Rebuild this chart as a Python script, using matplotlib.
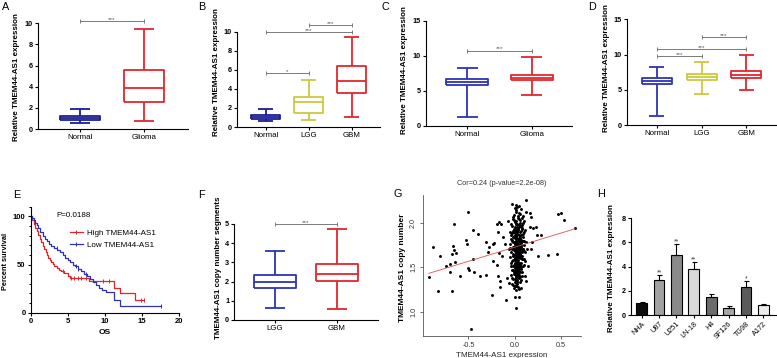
import numpy as np
import matplotlib
matplotlib.use('Agg')
import matplotlib.pyplot as plt
from matplotlib.ticker import MultipleLocator
from matplotlib.lines import Line2D

plt.rcParams['font.family'] = ['Liberation Sans', 'DejaVu Sans']
plt.rcParams['axes.unicode_minus'] = False

W, H = 777, 358

BLUE = '#2d33b4'
NAVY = '#1b1e94'
RED = '#e3252b'
YELLOW = '#cdc93a'
SIG = '#7a7a7a'

# box summaries per group: whisker low, q1, median, q3, whisker high
a_groups = ['Normal', 'Glioma']
a_box = [[0.6, 0.85, 1.0, 1.25, 1.9], [0.8, 2.6, 3.85, 5.6, 9.5]]
a_sig = [(1, 2, 10.2, '***')]

b_groups = ['Normal', 'LGG', 'GBM']
b_box = [[0.6, 0.8, 1.0, 1.25, 1.9], [0.75, 1.45, 2.6, 3.15, 4.95], [1.0, 3.6, 4.8, 6.45, 9.45]]
b_sig = [(1, 2, 5.65, '*'), (1, 3, 9.95, '***'), (2, 3, 10.75, '***')]

c_groups = ['Normal', 'Glioma']
c_box = [[1.3, 5.9, 6.3, 6.7, 8.3], [4.4, 6.55, 6.9, 7.3, 9.9]]
c_sig = [(1, 2, 10.75, '***')]

d_groups = ['Normal', 'LGG', 'GBM']
d_box = [[1.3, 5.85, 6.3, 6.7, 8.3], [4.45, 6.45, 6.8, 7.2, 8.9], [4.9, 6.7, 7.1, 7.6, 9.9]]
d_sig = [(1, 2, 9.8, '***'), (1, 3, 10.75, '***'), (2, 3, 12.55, '***')]

f_groups = ['LGG', 'GBM']
f_box = [[0.6, 1.65, 1.97, 2.35, 3.6], [0.58, 2.05, 2.42, 2.93, 4.75]]
f_sig = [(1, 2, 5.0, '***')]

# E: Kaplan-Meier curves
high_t = [0, 0.2, 0.4, 0.6, 0.8, 1.0, 1.2, 1.4, 1.6, 1.8, 2.0, 2.2, 2.4, 2.6, 2.8, 3.0,
          3.2, 3.5, 3.8, 4.1, 4.5, 5.0, 5.3, 7.9, 11.3, 12.1, 14.1, 15.3]
high_s = [100, 96, 92, 88, 85, 81, 77, 73, 69, 66, 63, 60, 57, 55, 53, 51,
          48, 46, 44.5, 43, 41, 38, 35.5, 33, 26, 20, 13.5, 13.5]
high_cens = [4.35, 5.5, 5.9, 6.4, 6.8, 7.5, 9.7, 10.6, 14.9, 15.3]
low_t = [0, 0.2, 0.4, 0.6, 0.8, 1.0, 1.3, 1.6, 1.9, 2.2, 2.5, 2.8, 3.2, 3.6, 4.0, 4.3,
         4.6, 5.0, 5.3, 5.7, 6.0, 6.4, 6.8, 7.2, 7.6, 8.0, 8.4, 8.8, 9.2, 9.6, 10.2,
         11.2, 12.1, 17.6]
low_s = [100, 98, 96, 93, 91, 88, 84, 80, 77, 74, 71, 69, 67, 65, 63, 60,
         57, 55, 53, 50, 48, 45, 43, 40, 38, 35, 32, 29, 26, 24, 21,
         13.5, 7, 7]
low_cens = [3.5, 6.15, 6.4, 7.5, 17.6]

# G: copy number vs expression
g_out_expr = [-0.93, -0.887, -0.828, -0.814, -0.741, -0.704, -0.70, -0.682, -0.682, -0.664,
              -0.657, -0.657, -0.646, -0.639, -0.595, -0.522, -0.511, -0.504, -0.50, -0.493,
              -0.456, -0.449, -0.438, -0.474, -0.401, -0.376, -0.31, -0.31, -0.292, -0.281,
              -0.245, -0.237, -0.23, -0.219, -0.193, -0.182, -0.193, -0.179, -0.164, -0.157,
              -0.153, -0.146, -0.135, -0.164, -0.128, -0.109, -0.091, -0.084, -0.073, -0.062,
              0.0, 0.0, 0.011, 0.047, -0.026, 0.011, 0.047, 0.12, 0.12, 0.164,
              0.182, 0.172, 0.20, 0.23, 0.245, 0.281, 0.193, 0.182, 0.255, 0.358,
              0.456, 0.474, 0.504, 0.536, 0.657, 0.146, 0.128, 0.11]
g_out_copy = [1.395, 1.726, 1.237, 1.632, 1.519, 1.444, 1.538, 1.229, 1.65, 1.733,
              1.989, 1.695, 1.556, 1.658, 1.398, 1.808, 1.763, 2.117, 1.49, 1.47,
              1.594, 1.913, 1.45, 0.808, 1.876, 1.406, 1.782, 1.41, 1.669, 1.726,
              1.192, 1.763, 1.568, 1.771, 1.989, 1.895, 1.53, 1.406, 2.008, 1.35,
              1.274, 1.981, 1.632, 1.665, 1.838, 1.763, 1.139, 1.38, 2.019, 1.32,
              1.293, 1.169, 1.041, 1.169, 2.207, 2.195, 2.184, 2.25, 2.12, 2.109,
              2.064, 1.951, 1.944, 1.951, 1.857, 1.857, 1.782, 1.707, 1.632, 1.643,
              1.65, 2.094, 2.109, 2.026, 1.94, 1.519, 1.35, 1.406]
g_core_expr = [
    -0.02, 0.01, 0.04, 0.07, 0.03, -0.01, 0.05, 0.09, 0.02, 0.06, 0.00, 0.08,
    -0.03, 0.00, 0.02, 0.05, 0.08, -0.01, 0.03, 0.06, 0.10, 0.01,
    0.04, -0.04, 0.07, 0.02, 0.05, 0.09, -0.02, 0.03, 0.00, 0.06,
    -0.04, -0.02, 0.00, 0.01, 0.03, 0.04, 0.06, 0.08, 0.10, 0.02,
    -0.03, 0.05, 0.07, 0.01, -0.01, 0.03, 0.09, 0.04, 0.00, 0.06,
    0.11, -0.05, 0.02, 0.05, 0.08, -0.02, 0.03, 0.01, 0.07, 0.04,
    -0.05, -0.03, -0.01, 0.00, 0.02, 0.03, 0.05, 0.06, 0.08, 0.10,
    0.01, -0.02, 0.04, 0.07, 0.09, 0.02, -0.04, 0.03, 0.05, 0.00,
    0.12, 0.06, -0.01, 0.04, 0.08, 0.01, 0.03, -0.03, 0.07, 0.02,
    0.05, 0.10, 0.00, 0.04, -0.02, 0.06, 0.09, 0.01, 0.03, 0.05,
    -0.06, -0.04, -0.02, -0.01, 0.00, 0.01, 0.02, 0.03, 0.04, 0.05,
    0.06, 0.07, 0.08, 0.09, 0.11, 0.02, 0.04, -0.03, 0.00, 0.05,
    0.07, 0.01, 0.03, 0.06, -0.01, 0.08, 0.02, 0.04, 0.10, -0.05,
    0.03, 0.05, 0.00, 0.07, 0.01, 0.06, 0.09, -0.02, 0.04, 0.02,
    0.03, 0.05, 0.13, 0.01, 0.06,
    -0.05, -0.03, -0.02, 0.00, 0.01, 0.02, 0.03, 0.04, 0.05, 0.06,
    0.07, 0.08, 0.10, 0.01, 0.03, -0.01, 0.04, 0.06, 0.00, 0.02,
    0.05, 0.09, -0.04, 0.03, 0.07, 0.01, 0.04, 0.02, 0.06, -0.02,
    0.00, 0.05, 0.08, 0.03, 0.01, 0.04, 0.11, -0.01, 0.02, 0.06,
    0.03, 0.00, 0.05, 0.07, 0.02,
    -0.04, -0.02, -0.01, 0.00, 0.01, 0.02, 0.03, 0.04, 0.05, 0.06,
    0.08, 0.10, 0.02, 0.04, -0.03, 0.01, 0.03, 0.05, 0.07, 0.00,
    0.02, 0.06, -0.01, 0.04, 0.09, 0.01, 0.03, 0.05, -0.02, 0.02,
    0.07, 0.00, 0.04, 0.03, 0.06,
    -0.04, -0.02, 0.00, 0.01, 0.02, 0.03, 0.04, 0.05, 0.06, 0.08,
    0.01, -0.01, 0.03, 0.05, 0.00, 0.02, 0.07, 0.04, -0.03, 0.01,
    0.03, 0.06, 0.02, 0.00, 0.04,
    -0.03, -0.01, 0.00, 0.02, 0.03, 0.05, 0.01, 0.04, -0.02, 0.06,
    0.02, 0.00, 0.03, 0.07, 0.01]
g_core_copy = [
    2.06, 2.12, 2.08, 2.15, 2.18, 2.09, 2.11, 2.07, 2.14, 2.10, 2.16, 2.05,
    1.96, 2.01, 1.98, 2.04, 1.97, 2.03, 1.95, 2.00, 2.02, 1.99,
    2.05, 1.98, 1.96, 2.02, 1.97, 2.00, 2.04, 1.99, 1.95, 2.03,
    1.86, 1.91, 1.88, 1.94, 1.87, 1.92, 1.89, 1.93, 1.90, 1.85,
    1.88, 1.95, 1.86, 1.90, 1.93, 1.89, 1.87, 1.94, 1.91, 1.85,
    1.92, 1.90, 1.88, 1.86, 1.94, 1.89, 1.92, 1.87, 1.91, 1.93,
    1.76, 1.81, 1.78, 1.84, 1.77, 1.82, 1.79, 1.83, 1.80, 1.75,
    1.85, 1.78, 1.76, 1.81, 1.84, 1.79, 1.82, 1.77, 1.80, 1.83,
    1.78, 1.76, 1.85, 1.81, 1.79, 1.84, 1.75, 1.80, 1.77, 1.82,
    1.83, 1.79, 1.76, 1.81, 1.84, 1.78, 1.80, 1.77, 1.82, 1.75,
    1.71, 1.67, 1.73, 1.69, 1.74, 1.66, 1.72, 1.68, 1.75, 1.70,
    1.65, 1.73, 1.69, 1.71, 1.67, 1.74, 1.66, 1.70, 1.68, 1.72,
    1.75, 1.69, 1.65, 1.71, 1.73, 1.67, 1.70, 1.74, 1.68, 1.72,
    1.66, 1.69, 1.71, 1.73, 1.75, 1.67, 1.70, 1.65, 1.72, 1.68,
    1.74, 1.66, 1.71, 1.69, 1.73,
    1.61, 1.57, 1.63, 1.59, 1.64, 1.56, 1.62, 1.58, 1.65, 1.60,
    1.55, 1.63, 1.59, 1.61, 1.57, 1.64, 1.56, 1.62, 1.58, 1.60,
    1.65, 1.59, 1.55, 1.63, 1.61, 1.57, 1.64, 1.56, 1.62, 1.58,
    1.60, 1.65, 1.59, 1.55, 1.63, 1.61, 1.57, 1.64, 1.56, 1.62,
    1.58, 1.60, 1.55, 1.63, 1.59,
    1.51, 1.47, 1.53, 1.49, 1.54, 1.46, 1.52, 1.48, 1.55, 1.50,
    1.45, 1.53, 1.49, 1.51, 1.47, 1.54, 1.46, 1.52, 1.48, 1.50,
    1.55, 1.49, 1.45, 1.53, 1.51, 1.47, 1.54, 1.46, 1.52, 1.48,
    1.50, 1.55, 1.49, 1.45, 1.53,
    1.41, 1.37, 1.43, 1.39, 1.44, 1.36, 1.42, 1.38, 1.45, 1.40,
    1.35, 1.43, 1.39, 1.41, 1.37, 1.44, 1.36, 1.42, 1.38, 1.40,
    1.45, 1.39, 1.35, 1.43, 1.41,
    1.31, 1.27, 1.33, 1.29, 1.34, 1.26, 1.32, 1.28, 1.30, 1.33,
    1.25, 1.29, 1.31, 1.27, 1.34]
g_fit_x = [-0.93, 0.657]
g_fit_y = [1.432, 1.932]

# H: cell lines
h_lines = ['NHA', 'U87', 'U251', 'LN-18', 'H4', 'SF126', 'TG98', 'A172']
h_mean = [0.97, 2.9, 4.97, 3.81, 1.46, 0.55, 2.34, 0.83]
h_err = [0.12, 0.41, 0.88, 0.6, 0.28, 0.19, 0.47, 0.11]
h_mark = ['', '**', '**', '**', '', '', '*', '']
h_colors = ['#0d0d0d', '#a2a2a2', '#8a8a8a', '#d9d9d9', '#6c6c6c', '#a6a6a6', '#5a5a5a', '#ebebeb']

fig = plt.figure(figsize=(W / 100, H / 100), dpi=100)


def place(l, t, r, b):
    return fig.add_axes([l / W, 1 - b / H, (r - l) / W, (b - t) / H])


def ftext(x, y, s, **kw):
    return fig.text(x / W, 1 - y / H, s, **kw)


def prism(ax, yticks, ysize=5.2):
    ax.spines[['top', 'right']].set_visible(False)
    ax.spines[['left', 'bottom']].set_linewidth(0.8)
    ax.set_yticks(yticks)
    ax.tick_params(axis='both', length=2.2, width=0.8, pad=1.5)
    ax.tick_params(axis='y', labelsize=ysize)
    ax.tick_params(axis='x', labelsize=5.7)
    for t in ax.get_yticklabels():
        t.set_fontweight('bold')
    ax.patch.set_alpha(0)


def draw_boxes(ax, groups, five, colors, width):
    stats = [dict(whislo=f[0], q1=f[1], med=f[2], q3=f[3], whishi=f[4], fliers=[]) for f in five]
    pos = list(range(1, len(five) + 1))
    art = ax.bxp(stats, positions=pos, widths=width, capwidths=width * 0.5,
                 showfliers=False, manage_ticks=False)
    for i, c in enumerate(colors):
        parts = [art['boxes'][i], art['medians'][i]] + art['whiskers'][2 * i:2 * i + 2] + art['caps'][2 * i:2 * i + 2]
        for p in parts:
            p.set_color(c)
            p.set_linewidth(1.3)
            p.set_solid_capstyle('butt')
    ax.set_xticks(pos)
    ax.set_xticklabels(groups)


def sig_bars(ax, sigs):
    for x1, x2, y, txt in sigs:
        ax.plot([x1, x2], [y, y], color=SIG, lw=0.7, marker='|', ms=3, mew=0.7, clip_on=False)
        ax.text((x1 + x2) / 2, y, txt, ha='center', va='baseline', fontsize=4.6,
                color='#555555', clip_on=False)


ylab = dict(rotation=90, ha='center', va='center', fontsize=5.8, fontweight='bold')
plab = dict(ha='left', va='center', fontsize=7.8)

# ---- A
ax = place(37.7, 23.3, 188, 129)
draw_boxes(ax, a_groups, a_box, [NAVY, RED], 0.62)
sig_bars(ax, a_sig)
ax.set_xlim(0.339, 2.6875)
ax.set_ylim(0, 10)
prism(ax, [0, 2, 4, 6, 8, 10])
ftext(16.7, 76.7, 'Relative TMEM44-AS1 expression', **ylab)
ftext(1.5, 7, 'A', **plab)

# ---- B
ax = place(236.7, 31.7, 380, 127)
draw_boxes(ax, b_groups, b_box, [NAVY, YELLOW, RED], 0.67)
sig_bars(ax, b_sig)
ax.set_xlim(0.326, 3.66)
ax.set_ylim(0, 10)
prism(ax, [0, 2, 4, 6, 8, 10])
ftext(216.7, 72, 'Relative TMEM44-AS1 expression', **ylab)
ftext(198, 7, 'B', **plab)

# ---- C
ax = place(426, 20.7, 571.7, 126)
draw_boxes(ax, c_groups, c_box, [BLUE, RED], 0.65)
sig_bars(ax, c_sig)
ax.set_xlim(0.359, 2.62)
ax.set_ylim(0, 15)
prism(ax, [0, 5, 10, 15])
ftext(404, 70, 'Relative TMEM44-AS1 expression', **ylab)
ftext(382, 7, 'C', **plab)

# ---- D
ax = place(626.7, 19.3, 776, 125)
draw_boxes(ax, d_groups, d_box, [BLUE, YELLOW, RED], 0.67)
sig_bars(ax, d_sig)
ax.set_xlim(0.33, 3.66)
ax.set_ylim(0, 15)
prism(ax, [0, 5, 10, 15])
ftext(606.7, 68, 'Relative TMEM44-AS1 expression', **ylab)
ftext(588, 7, 'D', **plab)

# ---- E
ax = place(30.7, 206.7, 179, 312.7)
ax.step(high_t, high_s, where='post', color=RED, lw=0.9)
ax.step(low_t, low_s, where='post', color=BLUE, lw=0.9)
for tt, ss, cens, col in [(high_t, high_s, high_cens, RED), (low_t, low_s, low_cens, BLUE)]:
    idx = np.searchsorted(tt, cens, side='right') - 1
    ax.plot(cens, np.array(ss)[idx], ls='none', marker='|', ms=3, mew=0.7, color=col)
ax.set_xlim(0, 20)
ax.set_ylim(0, 110)
prism(ax, [0, 50, 100], ysize=5.5)
ax.set_xticks([0, 5, 10, 15, 20])
ax.tick_params(axis='x', labelsize=5.5)
for t in ax.get_xticklabels():
    t.set_fontweight('bold')
ax.yaxis.set_minor_locator(MultipleLocator(10))
ax.tick_params(axis='y', which='minor', length=1.3, width=0.7)
ax.set_xlabel('OS', fontsize=6, fontweight='bold', labelpad=3)
handles = [Line2D([], [], color=RED, lw=0.9, marker='|', ms=3, mew=0.7),
           Line2D([], [], color=BLUE, lw=0.9, marker='|', ms=3, mew=0.7)]
fig.legend(handles, ['High TMEM44-AS1', 'Low TMEM44-AS1'], loc='center left',
           bbox_to_anchor=(70 / W, 1 - 239 / H), frameon=False, fontsize=5.8,
           handlelength=1.6, handletextpad=0.45, labelspacing=0.5, borderpad=0,
           borderaxespad=0, numpoints=1)
ftext(56.7, 215.7, 'P=0.0188', ha='left', va='center', fontsize=5.8)
ftext(6, 261.7, 'Percent survival', **dict(ylab, fontsize=5.3))
ftext(12.7, 195, 'E', **plab)

# ---- F
ax = place(234.3, 224, 377.7, 320)
draw_boxes(ax, f_groups, f_box, [BLUE, RED], 0.67)
sig_bars(ax, f_sig)
ax.set_xlim(0.34, 2.66)
ax.set_ylim(0, 5)
prism(ax, [0, 1, 2, 3, 4, 5])
ftext(218, 268, 'TMEM44-AS1 copy number segments', **ylab)
ftext(198, 195, 'F', **plab)

# ---- G
ax = place(423.3, 195, 581, 336)
ax.scatter(g_out_expr + g_core_expr, g_out_copy + g_core_copy, s=4.5, color='black', lw=0, zorder=2)
ax.plot(g_fit_x, g_fit_y, color='#d9534f', lw=0.6, zorder=3)
ax.set_xlim(-0.99, 0.72)
ax.set_ylim(0.73, 2.31)
ax.spines[['top', 'right']].set_visible(False)
ax.spines[['left', 'bottom']].set_color('#555555')
ax.spines[['left', 'bottom']].set_linewidth(0.6)
ax.set_xticks([-0.5, 0.0, 0.5])
ax.set_xticklabels(['-0.5', '0.0', '0.5'])
ax.set_yticks([1.0, 1.5, 2.0])
ax.set_yticklabels(['1.0', '1.5', '2.0'], rotation=90, va='center')
ax.tick_params(length=2.5, width=0.6, color='#555555', labelsize=5.2, labelcolor='#333333', pad=2)
ax.set_xlabel('TMEM44-AS1 expression', fontsize=5.8, color='#222222', labelpad=2)
ax.set_title('Cor=0.24 (p-value=2.2e-08)', fontsize=5.2, color='#333333', pad=7)
ftext(402.7, 268, 'TMEM44-AS1 copy number', **dict(ylab, fontsize=6))
ftext(393, 194, 'G', **plab)

# ---- H
ax = place(630.7, 218.3, 776, 315)
xh = np.arange(len(h_lines))
ax.bar(xh, h_mean, width=0.62, color=h_colors, edgecolor='black', linewidth=0.8,
       yerr=[np.zeros(len(h_err)), h_err], capsize=1.8,
       error_kw=dict(elinewidth=0.8, capthick=0.8, ecolor='black'))
for i, m in enumerate(h_mark):
    if m:
        ax.text(xh[i], h_mean[i] + h_err[i] + 0.05, m, ha='center', va='baseline',
                fontsize=4.8, color='#333333')
ax.set_xlim(-0.633, 7.73)
ax.set_ylim(0, 8)
prism(ax, [0, 2, 4, 6, 8])
ax.set_xticks(xh)
ax.set_xticklabels(h_lines, rotation=45, ha='right', rotation_mode='anchor', fontsize=5.2)
ftext(611.7, 268, 'Relative TMEM44-AS1 expression', **ylab)
ftext(597, 194, 'H', **plab)

fig.savefig('out.png', dpi=100)
